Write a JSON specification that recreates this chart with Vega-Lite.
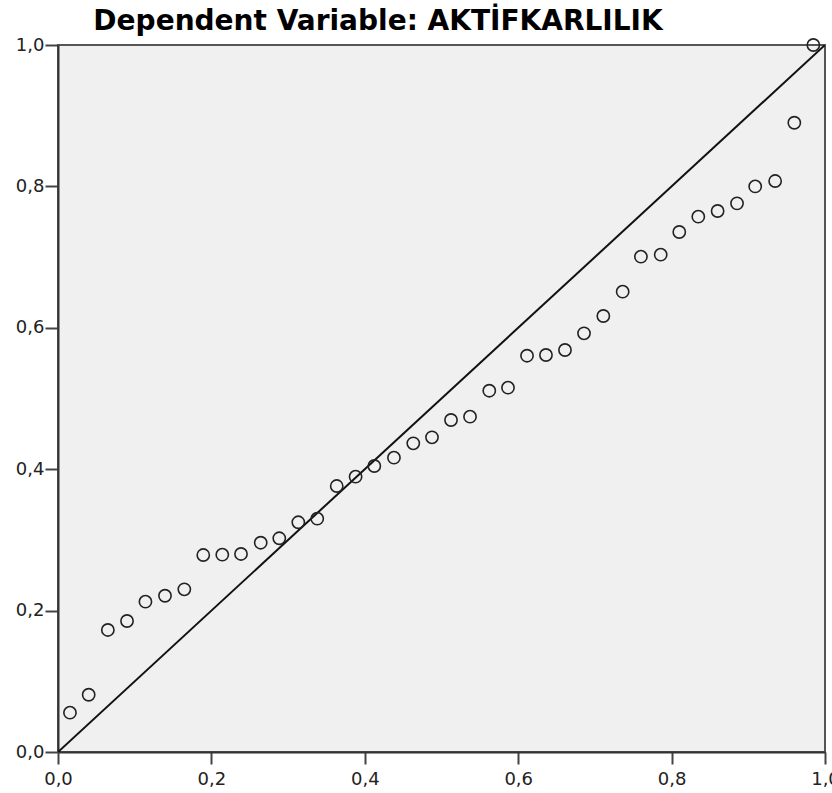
{
  "$schema": "https://vega.github.io/schema/vega-lite/v6.json",
  "width": 767,
  "height": 707,
  "autosize": {"type": "none"},
  "padding": {"left": 58, "top": 45, "right": 7, "bottom": 41},
  "background": "white",
  "title": {
    "text": "Dependent Variable: AKTİFKARLILIK",
    "anchor": "start",
    "dx": 78,
    "font": "DejaVu Sans",
    "fontSize": 28,
    "fontWeight": "bold",
    "color": "black",
    "offset": 0
  },
  "config": {
    "view": {"fill": "#f0f0f0", "stroke": "#555555", "strokeWidth": 2},
    "axis": {
      "grid": false,
      "domainColor": "#333333",
      "domainWidth": 2,
      "tickColor": "#444444",
      "tickWidth": 2,
      "labelFont": "DejaVu Sans",
      "labelFontSize": 18,
      "labelColor": "#222222",
      "labelFlush": false,
      "labelOverlap": false,
      "title": null
    }
  },
  "datasets": {
    "pts": [
      {"obs": 0.0156, "exp": 0.0556},
      {"obs": 0.0400, "exp": 0.0810},
      {"obs": 0.0650, "exp": 0.1726},
      {"obs": 0.0900, "exp": 0.1853},
      {"obs": 0.1140, "exp": 0.2126},
      {"obs": 0.1395, "exp": 0.2210},
      {"obs": 0.1647, "exp": 0.2301},
      {"obs": 0.1894, "exp": 0.2786},
      {"obs": 0.2142, "exp": 0.2791},
      {"obs": 0.2386, "exp": 0.2801},
      {"obs": 0.2643, "exp": 0.2960},
      {"obs": 0.2885, "exp": 0.3023},
      {"obs": 0.3133, "exp": 0.3249},
      {"obs": 0.3380, "exp": 0.3300},
      {"obs": 0.3634, "exp": 0.3762},
      {"obs": 0.3880, "exp": 0.3894},
      {"obs": 0.4124, "exp": 0.4045},
      {"obs": 0.4380, "exp": 0.4163},
      {"obs": 0.4632, "exp": 0.4366},
      {"obs": 0.4876, "exp": 0.4451},
      {"obs": 0.5124, "exp": 0.4696},
      {"obs": 0.5372, "exp": 0.4743},
      {"obs": 0.5623, "exp": 0.5110},
      {"obs": 0.5867, "exp": 0.5153},
      {"obs": 0.6115, "exp": 0.5605},
      {"obs": 0.6362, "exp": 0.5615},
      {"obs": 0.6610, "exp": 0.5686},
      {"obs": 0.6858, "exp": 0.5922},
      {"obs": 0.7110, "exp": 0.6167},
      {"obs": 0.7362, "exp": 0.6511},
      {"obs": 0.7600, "exp": 0.7006},
      {"obs": 0.7858, "exp": 0.7034},
      {"obs": 0.8100, "exp": 0.7355},
      {"obs": 0.8348, "exp": 0.7572},
      {"obs": 0.8600, "exp": 0.7652},
      {"obs": 0.8853, "exp": 0.7760},
      {"obs": 0.9090, "exp": 0.8000},
      {"obs": 0.9350, "exp": 0.8076},
      {"obs": 0.9600, "exp": 0.8900},
      {"obs": 0.9848, "exp": 1.0000}
    ],
    "diag": [
      {"obs": 0, "exp": 0},
      {"obs": 1, "exp": 1}
    ]
  },
  "encoding": {
    "x": {
      "field": "obs",
      "type": "quantitative",
      "scale": {"domain": [0, 1], "nice": false, "zero": false},
      "axis": {
        "values": [0, 0.2, 0.4, 0.6, 0.8, 1],
        "labelExpr": "replace(format(datum.value, '.1f'), '.', ',')",
        "tickSize": 12,
        "labelPadding": 6
      }
    },
    "y": {
      "field": "exp",
      "type": "quantitative",
      "scale": {"domain": [0, 1], "nice": false, "zero": false},
      "axis": {
        "values": [0, 0.2, 0.4, 0.6, 0.8, 1],
        "labelExpr": "replace(format(datum.value, '.1f'), '.', ',')",
        "tickSize": 13,
        "labelPadding": 1
      }
    }
  },
  "layer": [
    {
      "data": {"name": "diag"},
      "mark": {"type": "line", "color": "#111111", "strokeWidth": 2, "clip": true}
    },
    {
      "data": {"name": "pts"},
      "mark": {"type": "point", "shape": "circle", "filled": false, "color": "#222222", "strokeWidth": 1.6, "size": 150, "opacity": 1, "clip": false}
    }
  ]
}
